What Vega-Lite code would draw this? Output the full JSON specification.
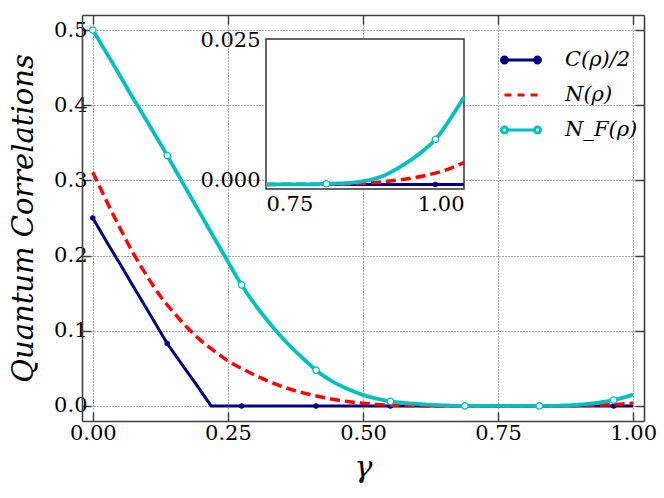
{
  "$schema": "https://vega.github.io/schema/vega-lite/v6.json",
  "width": 562,
  "height": 406,
  "autosize": "none",
  "padding": {"left": 82, "top": 15, "right": 20, "bottom": 77},
  "background": "white",
  "config": {"view": {"stroke": null}, "font": "DejaVu Serif"},
  "datasets": {
    "curves": [
      {"g": 0, "v": 0.25, "s": "C"}, {"g": 0.025, "v": 0.219, "s": "C"}, {"g": 0.05, "v": 0.1895, "s": "C"}, {"g": 0.075, "v": 0.159, "s": "C"}, {"g": 0.1, "v": 0.129, "s": "C"}, {"g": 0.1377, "v": 0.083, "s": "C"}, {"g": 0.16, "v": 0.0603, "s": "C"}, {"g": 0.19, "v": 0.03, "s": "C"}, {"g": 0.219, "v": 0, "s": "C"}, {"g": 0.3, "v": 0, "s": "C"}, {"g": 0.5, "v": 0, "s": "C"}, {"g": 0.75, "v": 0, "s": "C"}, {"g": 0.8, "v": 0, "s": "C"}, {"g": 0.9, "v": 0, "s": "C"}, {"g": 1.0, "v": 0, "s": "C"},
      {"g": 0, "v": 0.311, "s": "N"}, {"g": 0.025, "v": 0.273, "s": "N"}, {"g": 0.05, "v": 0.237, "s": "N"}, {"g": 0.075, "v": 0.203, "s": "N"}, {"g": 0.1, "v": 0.173, "s": "N"}, {"g": 0.125, "v": 0.146, "s": "N"}, {"g": 0.15, "v": 0.124, "s": "N"}, {"g": 0.175, "v": 0.104, "s": "N"}, {"g": 0.2, "v": 0.087, "s": "N"}, {"g": 0.225, "v": 0.073, "s": "N"}, {"g": 0.25, "v": 0.06, "s": "N"}, {"g": 0.275, "v": 0.05, "s": "N"}, {"g": 0.3, "v": 0.041, "s": "N"}, {"g": 0.325, "v": 0.033, "s": "N"}, {"g": 0.35, "v": 0.026, "s": "N"}, {"g": 0.375, "v": 0.02, "s": "N"}, {"g": 0.4, "v": 0.0155, "s": "N"}, {"g": 0.425, "v": 0.0115, "s": "N"}, {"g": 0.45, "v": 0.0082, "s": "N"}, {"g": 0.475, "v": 0.0056, "s": "N"}, {"g": 0.5, "v": 0.0036, "s": "N"}, {"g": 0.525, "v": 0.0021, "s": "N"}, {"g": 0.55, "v": 0.0011, "s": "N"}, {"g": 0.575, "v": 0.0005, "s": "N"}, {"g": 0.6, "v": 0.0002, "s": "N"}, {"g": 0.65, "v": 0.00003, "s": "N"}, {"g": 0.7, "v": 0, "s": "N"}, {"g": 0.75, "v": 0, "s": "N"}, {"g": 0.8, "v": 0.00001, "s": "N"}, {"g": 0.825, "v": 0.00003, "s": "N"}, {"g": 0.85, "v": 0.00007, "s": "N"}, {"g": 0.875, "v": 0.0002, "s": "N"}, {"g": 0.9, "v": 0.0005, "s": "N"}, {"g": 0.925, "v": 0.0009, "s": "N"}, {"g": 0.95, "v": 0.0015, "s": "N"}, {"g": 0.975, "v": 0.0024, "s": "N"}, {"g": 1.0, "v": 0.0038, "s": "N"},
      {"g": 0, "v": 0.5, "s": "NF"}, {"g": 0.035, "v": 0.458, "s": "NF"}, {"g": 0.069, "v": 0.416, "s": "NF"}, {"g": 0.1, "v": 0.379, "s": "NF"}, {"g": 0.1377, "v": 0.333, "s": "NF"}, {"g": 0.17, "v": 0.292, "s": "NF"}, {"g": 0.2, "v": 0.2545, "s": "NF"}, {"g": 0.225, "v": 0.223, "s": "NF"}, {"g": 0.25, "v": 0.192, "s": "NF"}, {"g": 0.2754, "v": 0.161, "s": "NF"}, {"g": 0.3, "v": 0.135, "s": "NF"}, {"g": 0.325, "v": 0.112, "s": "NF"}, {"g": 0.35, "v": 0.091, "s": "NF"}, {"g": 0.375, "v": 0.0725, "s": "NF"}, {"g": 0.4, "v": 0.056, "s": "NF"}, {"g": 0.413, "v": 0.0475, "s": "NF"}, {"g": 0.44, "v": 0.034, "s": "NF"}, {"g": 0.475, "v": 0.0215, "s": "NF"}, {"g": 0.5, "v": 0.0148, "s": "NF"}, {"g": 0.525, "v": 0.0098, "s": "NF"}, {"g": 0.551, "v": 0.0062, "s": "NF"}, {"g": 0.575, "v": 0.0042, "s": "NF"}, {"g": 0.6, "v": 0.0027, "s": "NF"}, {"g": 0.625, "v": 0.0015, "s": "NF"}, {"g": 0.65, "v": 0.0007, "s": "NF"}, {"g": 0.675, "v": 0.0002, "s": "NF"}, {"g": 0.7, "v": 0.00003, "s": "NF"}, {"g": 0.725, "v": 0, "s": "NF"}, {"g": 0.75, "v": 0, "s": "NF"}, {"g": 0.775, "v": 0, "s": "NF"}, {"g": 0.8, "v": 0.00001, "s": "NF"}, {"g": 0.825, "v": 0.0001, "s": "NF"}, {"g": 0.85, "v": 0.0002, "s": "NF"}, {"g": 0.875, "v": 0.0006, "s": "NF"}, {"g": 0.9, "v": 0.0016, "s": "NF"}, {"g": 0.925, "v": 0.0035, "s": "NF"}, {"g": 0.95, "v": 0.006, "s": "NF"}, {"g": 0.964, "v": 0.0078, "s": "NF"}, {"g": 0.975, "v": 0.0098, "s": "NF"}, {"g": 1.0, "v": 0.0151, "s": "NF"}
    ],
    "markers": [
      {"g": 0, "v": 0.25, "s": "C"}, {"g": 0.1377, "v": 0.083, "s": "C"}, {"g": 0.2754, "v": 0, "s": "C"}, {"g": 0.4131, "v": 0, "s": "C"}, {"g": 0.5508, "v": 0, "s": "C"}, {"g": 0.6885, "v": 0, "s": "C"}, {"g": 0.8262, "v": 0, "s": "C"}, {"g": 0.9639, "v": 0, "s": "C"},
      {"g": 0, "v": 0.5, "s": "NF"}, {"g": 0.1377, "v": 0.333, "s": "NF"}, {"g": 0.2754, "v": 0.161, "s": "NF"}, {"g": 0.4131, "v": 0.0475, "s": "NF"}, {"g": 0.5508, "v": 0.0062, "s": "NF"}, {"g": 0.6885, "v": 0.0001, "s": "NF"}, {"g": 0.8262, "v": 0.0001, "s": "NF"}, {"g": 0.9639, "v": 0.0078, "s": "NF"}
    ],
    "box": [{"name": "inset"}]
  },
  "layer": [
    {
      "encoding": {
        "x": {"field": "g", "type": "quantitative",
          "scale": {"domain": [-0.02, 1.02], "nice": false, "zero": false},
          "axis": {"orient": "bottom", "values": [0, 0.25, 0.5, 0.75, 1], "format": ".2f",
            "grid": true, "gridDash": [1, 2], "gridColor": "#000", "gridWidth": 0.8, "gridOpacity": 0.8,
            "tickSize": -9, "tickWidth": 1.5, "tickColor": "#404040",
            "domainColor": "#404040", "domainWidth": 1.6,
            "labelFont": "DejaVu Serif", "labelFontSize": 21, "labelColor": "#000", "labelPadding": 10,
            "title": "γ", "titleFont": "DejaVu Serif", "titleFontStyle": "italic", "titleFontWeight": "normal", "titleFontSize": 30, "titleColor": "#000", "titlePadding": 9}},
        "y": {"field": "v", "type": "quantitative",
          "scale": {"domain": [-0.02, 0.52], "nice": false, "zero": false},
          "axis": {"orient": "left", "values": [0, 0.1, 0.2, 0.3, 0.4, 0.5], "format": ".1f",
            "grid": true, "gridDash": [1, 2], "gridColor": "#000", "gridWidth": 0.8, "gridOpacity": 0.8,
            "tickSize": -9, "tickWidth": 1.5, "tickColor": "#404040",
            "domainColor": "#404040", "domainWidth": 1.6,
            "labelFont": "DejaVu Serif", "labelFontSize": 21, "labelColor": "#000", "labelPadding": 4,
            "title": "Quantum Correlations", "titleFont": "DejaVu Serif", "titleFontStyle": "italic", "titleFontWeight": "normal", "titleFontSize": 29, "titleColor": "#000", "titlePadding": 15}}
      },
      "layer": [
        {"data": {"name": "curves"}, "transform": [{"filter": "datum.s == 'C'"}],
         "mark": {"type": "line", "color": "#000080", "strokeWidth": 3, "clip": true}},
        {"data": {"name": "markers"}, "transform": [{"filter": "datum.s == 'C'"}],
         "mark": {"type": "point", "filled": true, "shape": "circle", "color": "#000080", "opacity": 1, "size": 30}},
        {"data": {"name": "curves"}, "transform": [{"filter": "datum.s == 'N'"}],
         "mark": {"type": "line", "color": "#ff0000", "strokeWidth": 3.5, "strokeDash": [10, 5], "interpolate": "monotone", "clip": true}},
        {"data": {"name": "curves"}, "transform": [{"filter": "datum.s == 'NF'"}],
         "mark": {"type": "line", "color": "#00bfbf", "strokeWidth": 3.8, "interpolate": "monotone", "clip": true}},
        {"data": {"name": "markers"}, "transform": [{"filter": "datum.s == 'NF'"}],
         "mark": {"type": "point", "filled": false, "shape": "circle", "fill": "#ffffff", "stroke": "#00bfbf", "strokeWidth": 1.3, "opacity": 1, "size": 42}},
        {"data": {"values": []},
         "mark": {"type": "point", "filled": true, "opacity": 1},
         "encoding": {
           "shape": {"field": "s", "type": "nominal", "scale": {"domain": ["C", "N", "NF"], "range": [
             "M-0.82,0L0.82,0M-0.82,0A0.18,0.18,0,1,1,-1.18,0A0.18,0.18,0,1,1,-0.82,0M1.18,0A0.18,0.18,0,1,1,0.82,0A0.18,0.18,0,1,1,1.18,0",
             "M-1,0L-0.58,0M-0.21,0L0.21,0M0.58,0L1,0",
             "M-0.82,0L0.82,0M-0.82,0A0.18,0.18,0,1,1,-1.18,0A0.18,0.18,0,1,1,-0.82,0M1.18,0A0.18,0.18,0,1,1,0.82,0A0.18,0.18,0,1,1,1.18,0"]},
             "legend": {"orient": "none", "legendX": 421, "legendY": 27, "title": null, "symbolSize": 1089, "symbolStrokeWidth": 3, "symbolOpacity": 1,
               "labelFont": "DejaVu Serif", "labelFontStyle": "italic", "labelFontSize": 21, "labelColor": "#000", "labelOffset": 26, "rowPadding": 7, "padding": 0,
               "labelExpr": "datum.value == 'C' ? 'C(ρ)/2' : datum.value == 'N' ? 'N(ρ)' : 'N_F(ρ)'"}},
           "fill": {"field": "s", "type": "nominal", "scale": {"domain": ["C", "N", "NF"], "range": ["#000080", "#ff0000", "#ffffff"]},
             "legend": {"orient": "none", "legendX": 421, "legendY": 27, "title": null, "symbolSize": 1089, "symbolStrokeWidth": 3, "symbolOpacity": 1,
               "labelFont": "DejaVu Serif", "labelFontStyle": "italic", "labelFontSize": 21, "labelColor": "#000", "labelOffset": 26, "rowPadding": 7, "padding": 0,
               "labelExpr": "datum.value == 'C' ? 'C(ρ)/2' : datum.value == 'N' ? 'N(ρ)' : 'N_F(ρ)'"}},
           "stroke": {"field": "s", "type": "nominal", "scale": {"domain": ["C", "N", "NF"], "range": ["#000080", "#ff0000", "#00bfbf"]},
             "legend": {"orient": "none", "legendX": 421, "legendY": 27, "title": null, "symbolSize": 1089, "symbolStrokeWidth": 3, "symbolOpacity": 1,
               "labelFont": "DejaVu Serif", "labelFontStyle": "italic", "labelFontSize": 21, "labelColor": "#000", "labelOffset": 26, "rowPadding": 7, "padding": 0,
               "labelExpr": "datum.value == 'C' ? 'C(ρ)/2' : datum.value == 'N' ? 'N(ρ)' : 'N_F(ρ)'"}}
         }}
      ]
    },
    {
      "data": {"name": "markers"},
      "mark": {"type": "point", "opacity": 0},
      "encoding": {
        "x": {"field": "g", "type": "quantitative",
          "scale": {"domain": [-0.02, 1.02], "nice": false, "zero": false},
          "axis": {"orient": "top", "values": [0, 0.25, 0.5, 0.75, 1], "labels": false, "grid": false, "title": null,
            "tickSize": -9, "tickWidth": 1.5, "tickColor": "#404040", "domainColor": "#404040", "domainWidth": 1.6}},
        "y": {"field": "v", "type": "quantitative",
          "scale": {"domain": [-0.02, 0.52], "nice": false, "zero": false},
          "axis": {"orient": "right", "values": [0, 0.1, 0.2, 0.3, 0.4, 0.5], "labels": false, "grid": false, "title": null,
            "tickSize": -9, "tickWidth": 1.5, "tickColor": "#404040", "domainColor": "#404040", "domainWidth": 1.6}}
      }
    },
    {
      "layer": [
        {"data": {"name": "box"},
         "mark": {"type": "rect", "fill": "#ffffff", "stroke": "#333333", "strokeWidth": 1.5, "opacity": 1},
         "encoding": {
           "x": {"datum": 0.75, "type": "quantitative",
             "scale": {"domain": [0.75, 1.0], "range": [184, 382], "nice": false, "zero": false},
             "axis": {"orient": "bottom", "offset": -232, "values": [0.75, 1.0], "format": ".2f", "ticks": false, "domain": false, "grid": false, "title": null,
               "labelFont": "DejaVu Serif", "labelFontSize": 21, "labelColor": "#000", "labelPadding": 4}},
           "x2": {"datum": 1.0},
           "y": {"datum": -0.0008, "type": "quantitative",
             "scale": {"domain": [-0.0008, 0.0252], "range": [174, 24], "nice": false, "zero": false},
             "axis": {"orient": "left", "offset": -184, "values": [0, 0.025], "format": ".3f", "ticks": false, "domain": false, "grid": false, "title": null,
               "labelFont": "DejaVu Serif", "labelFontSize": 21, "labelColor": "#000", "labelPadding": 6,
               "labelOffset": {"condition": {"test": "datum.value === 0", "value": -4}, "value": 0}}},
           "y2": {"datum": 0.0252}}},
        {"data": {"name": "curves"}, "transform": [{"filter": "datum.s == 'C' && datum.g >= 0.75"}],
         "mark": {"type": "line", "color": "#000080", "strokeWidth": 3},
         "encoding": {"x": {"field": "g", "type": "quantitative"}, "y": {"field": "v", "type": "quantitative"}}},
        {"data": {"name": "markers"}, "transform": [{"filter": "datum.s == 'C' && datum.g >= 0.75"}],
         "mark": {"type": "point", "filled": true, "shape": "circle", "color": "#000080", "opacity": 1, "size": 30},
         "encoding": {"x": {"field": "g", "type": "quantitative"}, "y": {"field": "v", "type": "quantitative"}}},
        {"data": {"name": "curves"}, "transform": [{"filter": "datum.s == 'N' && datum.g >= 0.75"}],
         "mark": {"type": "line", "color": "#ff0000", "strokeWidth": 3.5, "strokeDash": [10, 5], "interpolate": "monotone"},
         "encoding": {"x": {"field": "g", "type": "quantitative"}, "y": {"field": "v", "type": "quantitative"}}},
        {"data": {"name": "curves"}, "transform": [{"filter": "datum.s == 'NF' && datum.g >= 0.75"}],
         "mark": {"type": "line", "color": "#00bfbf", "strokeWidth": 3.8, "interpolate": "monotone"},
         "encoding": {"x": {"field": "g", "type": "quantitative"}, "y": {"field": "v", "type": "quantitative"}}},
        {"data": {"name": "markers"}, "transform": [{"filter": "datum.s == 'NF' && datum.g >= 0.75"}],
         "mark": {"type": "point", "filled": false, "shape": "circle", "fill": "#ffffff", "stroke": "#00bfbf", "strokeWidth": 1.3, "opacity": 1, "size": 42},
         "encoding": {"x": {"field": "g", "type": "quantitative"}, "y": {"field": "v", "type": "quantitative"}}}
      ]
    }
  ],
  "resolve": {"scale": {"x": "independent", "y": "independent"}, "axis": {"x": "independent", "y": "independent"}}
}
